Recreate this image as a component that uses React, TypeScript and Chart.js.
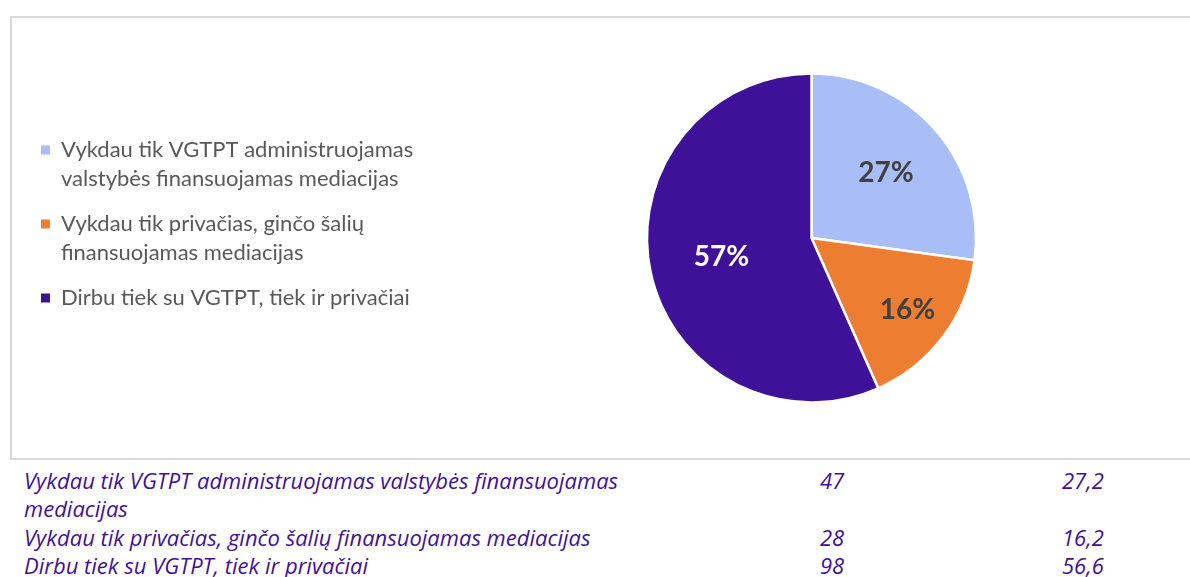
import React, { useEffect, useRef } from 'react';
import { Chart, registerables } from 'chart.js';

Chart.register(...registerables);

const categories = [
  'Vykdau tik VGTPT administruojamas valstybės finansuojamas mediacijas',
  'Vykdau tik privačias, ginčo šalių finansuojamas mediacijas',
  'Dirbu tiek su VGTPT, tiek ir privačiai',
];
const legendLines = [
  ['Vykdau tik VGTPT administruojamas', 'valstybės finansuojamas mediacijas'],
  ['Vykdau tik privačias, ginčo šalių', 'finansuojamas mediacijas'],
  ['Dirbu tiek su VGTPT, tiek ir privačiai'],
];
const counts = [47, 28, 98];
const percents = [27.2, 16.2, 56.6];

const sliceColors = ['#A9BEF7', '#ED7D31', '#3F1098'];
const labelColors = ['#404040', '#404040', '#FFFFFF'];
const labelRadius = [0.6, 0.73, 0.56];

// desired horizontal centre of the pie inside the canvas
const PIE_CENTER_X = 799.5;
const CANVAS_W = 1300;

const pctLabels = {
  id: 'pctLabels',
  afterDatasetsDraw(chart: any) {
    const meta = chart.getDatasetMeta(0);
    const data = chart.data.datasets[0].data as number[];
    const total = data.reduce((a, b) => a + b, 0);
    const ctx = chart.ctx as CanvasRenderingContext2D;
    ctx.save();
    ctx.font = 'bold 28px Lato';
    ctx.textAlign = 'center';
    ctx.textBaseline = 'middle';
    meta.data.forEach((arc: any, i: number) => {
      const { x, y, startAngle, endAngle, outerRadius } = arc.getProps(
        ['x', 'y', 'startAngle', 'endAngle', 'outerRadius'],
        true
      );
      const mid = (startAngle + endAngle) / 2;
      const r = outerRadius * labelRadius[i];
      ctx.fillStyle = labelColors[i];
      ctx.fillText(Math.round((data[i] / total) * 100) + '%', x + Math.cos(mid) * r, y + Math.sin(mid) * r);
    });
    ctx.restore();
  },
};

const fmt = (v: number) => v.toFixed(1).replace('.', ',');

export default function App() {
  const ref = useRef<HTMLCanvasElement | null>(null);

  useEffect(() => {
    if (!ref.current) return;
    const chart = new Chart(ref.current, {
      type: 'pie',
      data: {
        labels: legendLines as any,
        datasets: [
          {
            data: counts,
            backgroundColor: sliceColors,
            borderColor: '#FFFFFF',
            borderWidth: 2.5,
            radius: 164.5,
          } as any,
        ],
      },
      options: {
        responsive: false,
        animation: false,
        layout: { padding: { left: 13, right: 100, top: 0, bottom: 0 } },
        plugins: {
          legend: {
            position: 'left',
            align: 'start',
            title: {
              display: true,
              text: '',
              font: { size: 10, lineHeight: 1 },
              padding: { top: 95, bottom: 0 },
            },
            labels: {
              boxWidth: 9,
              boxHeight: 9,
              padding: 16,
              color: '#595959',
              font: { family: 'Lato', size: 22, lineHeight: 29 / 22 },
              generateLabels: (c: any) => {
                const base = (Chart as any).overrides.doughnut.plugins.legend.labels.generateLabels(c);
                return base.map((it: any) => ({ ...it, lineWidth: 0, strokeStyle: 'rgba(0,0,0,0)' }));
              },
            },
          } as any,
          tooltip: { enabled: false },
        },
      },
      plugins: [pctLabels],
    });
    // place the pie centre independently of the measured legend width
    const legendRight = (chart as any).legend.right;
    (chart.options.layout as any).padding.right = legendRight + CANVAS_W - 2 * PIE_CENTER_X;
    chart.update('none');
    return () => chart.destroy();
  }, []);

  return (
    <div style={{ position: 'fixed', left: 0, top: 0, width: 1190, height: 577, overflow: 'hidden', background: '#fff' }}>
      <div
        style={{
          position: 'absolute',
          left: 10,
          top: 16,
          width: 1200,
          height: 444,
          border: '2px solid #D9D9D9',
          boxSizing: 'border-box',
          overflow: 'hidden',
        }}
      >
        <canvas ref={ref} width={CANVAS_W} height={440} style={{ position: 'absolute', left: 0, top: 0 }} />
      </div>
      <div
        style={{
          position: 'absolute',
          left: 24,
          top: 465.75,
          fontFamily: '"Open Sans"',
          fontStyle: 'italic',
          fontSize: 22,
          lineHeight: '28.5px',
          color: '#3F1299',
        }}
      >
        {categories.map((c, i) => (
          <div key={i} style={{ display: 'flex' }}>
            <div style={{ width: 796 }}>
              <div style={{ width: 650 }}>{c}</div>
            </div>
            <div style={{ width: 242 }}>{counts[i]}</div>
            <div>{fmt(percents[i])}</div>
          </div>
        ))}
      </div>
    </div>
  );
}
